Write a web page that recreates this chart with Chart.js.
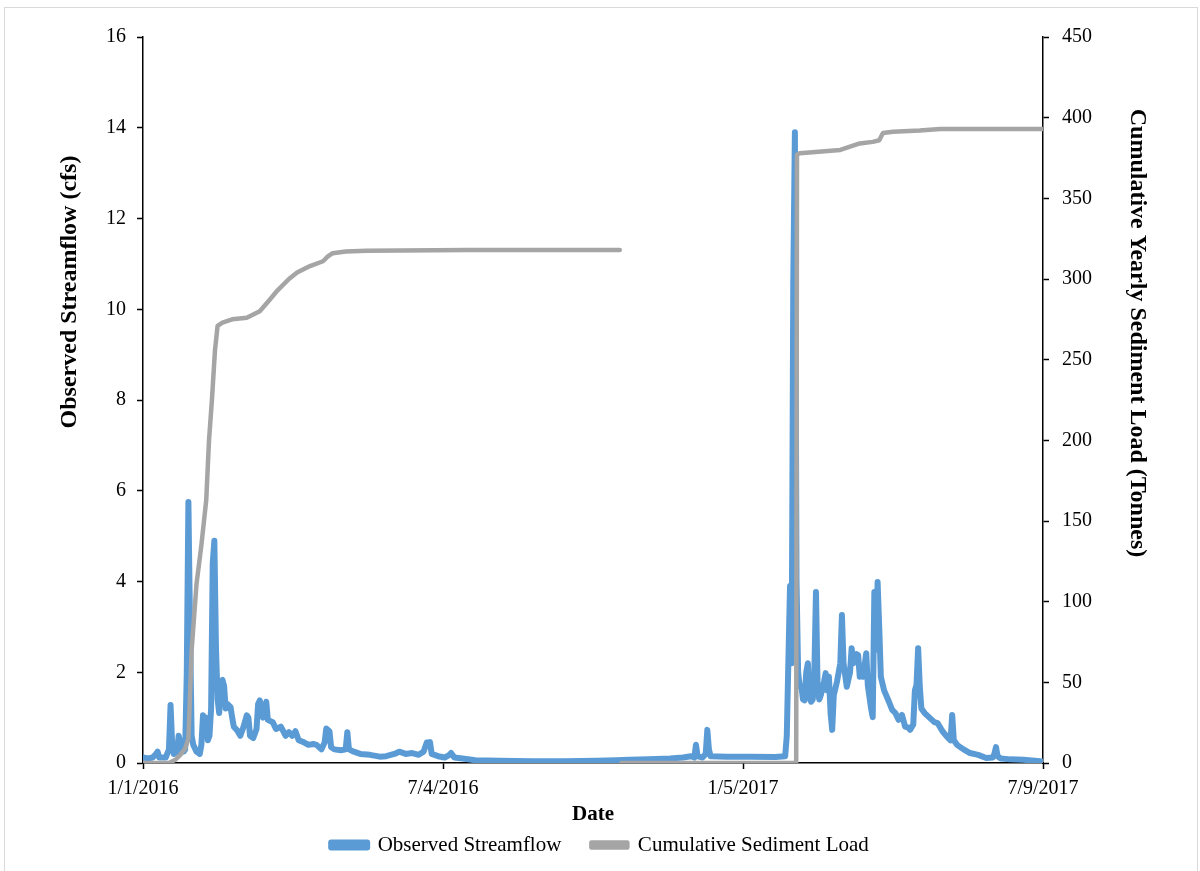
<!DOCTYPE html>
<html>
<head>
<meta charset="utf-8">
<title>Observed Streamflow and Cumulative Sediment Load</title>
<script src="https://cdn.jsdelivr.net/npm/chart.js@4.4.1/dist/chart.umd.min.js"></script>
<style>
  html, body { margin: 0; padding: 0; background: #ffffff; }
  #wrap { position: relative; width: 1200px; height: 871px; overflow: hidden; }
  #frame { position: absolute; left: 4px; top: 7px; width: 1194px; height: 900px;
           border: 1px solid #d9d9d9; box-sizing: border-box; pointer-events: none; }
  canvas { position: absolute; left: 0; top: 0; }
</style>
</head>
<body>
<div id="wrap">
  <canvas id="chart" width="1200" height="871"></canvas>
  <div id="frame"></div>
</div>
<script>
// Day 0 = 1/1/2016
const startDate = '1/1/2016';
const tickLabels = ['1/1/2016', '7/4/2016', '1/5/2017', '7/9/2017'];
const leftTitle = 'Observed Streamflow (cfs)';
const rightTitle = 'Cumulative Yearly Sediment Load (Tonnes)';

// Observed streamflow (cfs), days since start
const flowDays = [
  0, 3, 6, 8, 9, 10, 14, 16, 17, 18,
  19, 21, 22, 23, 24, 25, 26, 27, 28, 29,
  30, 31, 33, 35, 36, 37, 38, 39, 40, 41,
  42, 43, 44, 45, 46, 47, 48, 49, 50, 51,
  52, 54, 55, 56, 58, 60, 62, 64, 65, 66,
  68, 70, 71, 72, 74, 76, 77, 80, 82, 85,
  88, 90, 92, 94, 96, 99, 102, 105, 107, 110,
  112, 113, 115, 116, 118, 122, 125, 126, 127, 130,
  134, 140, 146, 150, 155, 158, 162, 166, 170, 173,
  175, 177, 178, 182, 186, 189, 190, 192, 197, 205,
  220, 240, 260, 280, 292, 300, 312, 325, 333, 338,
  340, 341, 342, 345, 347, 348, 349, 350, 360, 375,
  390, 396, 397, 398, 399, 400, 401, 402, 403, 404,
  405, 406, 407, 408, 409, 410, 411, 412, 413, 414,
  415, 416, 417, 418, 420, 421, 422, 423, 424, 425,
  426, 428, 430, 431, 432, 434, 436, 437, 438, 440,
  441, 442, 443, 444, 446, 447, 449, 450, 451, 452,
  453, 454, 455, 457, 460, 462, 464, 466, 468, 470,
  472, 473, 475, 476, 477, 478, 479, 480, 482, 485,
  488, 490, 493, 496, 498, 499, 500, 502, 506, 510,
  515, 520, 524, 525, 526, 527, 529, 535, 543, 550,
  555
];
const flowValues = [
  0.12, 0.10, 0.12, 0.20, 0.25, 0.12, 0.12, 0.30, 1.28, 0.40,
  0.20, 0.25, 0.60, 0.45, 0.30, 0.25, 0.30, 2.00, 5.75, 3.00,
  0.60, 0.40, 0.25, 0.20, 0.40, 1.05, 0.60, 1.00, 0.50, 0.60,
  1.20, 4.40, 4.90, 2.55, 1.40, 1.10, 1.80, 1.83, 1.70, 1.20,
  1.30, 1.23, 1.00, 0.80, 0.72, 0.60, 0.80, 1.05, 1.00, 0.60,
  0.55, 0.75, 1.30, 1.38, 1.00, 1.35, 0.95, 0.90, 0.75, 0.80,
  0.60, 0.68, 0.60, 0.70, 0.50, 0.46, 0.40, 0.42, 0.40, 0.30,
  0.45, 0.76, 0.70, 0.35, 0.30, 0.28, 0.30, 0.68, 0.30, 0.25,
  0.20, 0.18, 0.14, 0.15, 0.20, 0.25, 0.20, 0.22, 0.18, 0.25,
  0.45, 0.46, 0.20, 0.15, 0.12, 0.18, 0.22, 0.12, 0.10, 0.06,
  0.05, 0.04, 0.04, 0.05, 0.06, 0.07, 0.08, 0.10, 0.12, 0.15,
  0.12, 0.40, 0.15, 0.12, 0.20, 0.73, 0.30, 0.15, 0.14, 0.14,
  0.13, 0.15, 0.60, 2.27, 3.90, 2.20, 10.60, 13.90, 4.00, 2.00,
  1.68, 1.70, 1.40, 1.38, 2.00, 2.20, 1.50, 1.35, 1.40, 2.00,
  3.77, 1.67, 1.40, 1.50, 1.80, 1.98, 1.60, 1.90, 1.10, 0.73,
  1.50, 1.80, 2.20, 3.26, 2.20, 1.68, 2.00, 2.53, 2.20, 2.40,
  2.38, 1.90, 2.05, 1.90, 2.42, 1.70, 1.20, 1.01, 3.77, 2.50,
  3.99, 3.00, 1.90, 1.60, 1.35, 1.17, 1.10, 0.95, 1.06, 0.80,
  0.78, 0.73, 0.85, 1.60, 1.72, 2.53, 1.70, 1.20, 1.10, 1.00,
  0.90, 0.88, 0.70, 0.57, 0.50, 1.06, 0.50, 0.40, 0.30, 0.22,
  0.18, 0.11, 0.12, 0.20, 0.35, 0.15, 0.10, 0.08, 0.07, 0.05,
  0.03
];

// Cumulative yearly sediment load (tonnes); null separates the two years
const loadDays = [
  0, 16, 20, 23, 26, 28, 30, 33, 36, 39,
  40.7, 42.5, 44.4, 46, 49, 55, 64, 72, 78, 83,
  90, 95, 103, 111, 114, 117, 125, 138, 200, 294,
  294.5, 295, 350, 402.8, 403.3, 405, 430, 442, 450, 454,
  456.3, 462.5, 479, 491.5, 555
];
const loadValues = [
  0, 0, 2, 5, 9, 15, 70, 111, 135, 163,
  200, 225, 256, 271, 273, 275, 276, 280, 287, 293,
  300, 304, 308, 311, 314, 316, 317, 317.5, 318, 318,
  null, 0, 0, 0, 377, 378, 380, 384, 385, 386,
  390.5, 391.3, 392, 393, 393
];

function daysSinceStart(label) {
  const [m, d, y] = label.split('/').map(Number);
  const [m0, d0, y0] = startDate.split('/').map(Number);
  return Math.round((Date.UTC(y, m - 1, d) - Date.UTC(y0, m0 - 1, d0)) / 86400000);
}
const tickDays = tickLabels.map(daysSinceStart);

const serif = 'Liberation Serif, "Times New Roman", Times, serif';
const ink = '#000000';

// Vertical axis titles, drawn beside their axes and raised towards the top
const axisTitles = {
  id: 'axisTitles',
  afterDraw(chart) {
    const { ctx, chartArea } = chart;
    const ctr = (chartArea.top + chartArea.bottom) / 2;
    ctx.save();
    ctx.fillStyle = ink;
    ctx.font = 'bold 24px ' + serif;
    ctx.textAlign = 'center';
    ctx.textBaseline = 'middle';
    ctx.save();
    ctx.translate(chart.scales.y.left + 70, ctr - 108);
    ctx.rotate(-Math.PI / 2);
    ctx.fillText(leftTitle, 0, 0);
    ctx.restore();
    ctx.save();
    ctx.translate(chart.scales.y2.right - 63, ctr - 67);
    ctx.rotate(Math.PI / 2);
    ctx.fillText(rightTitle, 0, 0);
    ctx.restore();
    ctx.restore();
  }
};

const chart = new Chart(document.getElementById('chart'), {
  type: 'line',
  data: {
    datasets: [
      {
        label: 'Observed Streamflow',
        data: flowDays.map((d, i) => ({ x: d, y: flowValues[i] })),
        yAxisID: 'y',
        borderColor: '#5B9BD5',
        backgroundColor: '#5B9BD5',
        borderWidth: 6,
        borderJoinStyle: 'round',
        borderCapStyle: 'round',
        pointRadius: 0,
        tension: 0,
        order: 2
      },
      {
        label: 'Cumulative Sediment Load',
        data: loadDays.map((d, i) => ({ x: d, y: loadValues[i] })),
        yAxisID: 'y2',
        borderColor: '#A5A5A5',
        backgroundColor: '#A5A5A5',
        borderWidth: 4.5,
        borderJoinStyle: 'round',
        borderCapStyle: 'round',
        pointRadius: 0,
        tension: 0,
        spanGaps: false,
        order: 1
      }
    ]
  },
  plugins: [axisTitles],
  options: {
    responsive: false,
    animation: false,
    devicePixelRatio: 1,
    layout: { padding: { top: 37, bottom: 5.5, left: 0, right: 0 } },
    plugins: {
      tooltip: { enabled: false },
      legend: {
        position: 'bottom',
        labels: {
          font: { family: serif, size: 21 },
          color: ink,
          boxWidth: 36,
          boxHeight: 5,
          padding: 30,
          sort: (a, b) => a.datasetIndex - b.datasetIndex
        }
      }
    },
    scales: {
      x: {
        type: 'linear',
        position: 'bottom',
        min: 0,
        max: tickDays[tickDays.length - 1],
        afterBuildTicks: s => { s.ticks = tickDays.map(v => ({ value: v })); },
        afterFit: s => { s.height = 41.5; },
        ticks: {
          autoSkip: false,
          maxRotation: 0,
          padding: 8,
          color: ink,
          font: { family: serif, size: 20 },
          callback: v => tickLabels[tickDays.indexOf(v)]
        },
        grid: { drawOnChartArea: false, drawTicks: true, tickLength: 6, tickColor: ink, tickWidth: 1.5 },
        border: { display: true, color: ink, width: 1.5 },
        title: {
          display: true, text: 'Date', color: ink,
          font: { family: serif, size: 21, weight: 'bold' },
          padding: { top: 0, bottom: -23 }
        }
      },
      y: {
        position: 'left',
        min: 0,
        max: 16,
        afterFit: s => { s.width = 143; },
        ticks: {
          stepSize: 2, padding: 11, color: ink,
          font: { family: serif, size: 20 }
        },
        grid: { drawOnChartArea: false, drawTicks: true, tickLength: 6, tickColor: ink, tickWidth: 1.5 },
        border: { display: true, color: ink, width: 1.5 },
        title: { display: false }
      },
      y2: {
        position: 'right',
        min: 0,
        max: 450,
        afterFit: s => { s.width = 157; },
        ticks: {
          stepSize: 50, padding: 13, color: ink,
          font: { family: serif, size: 20 }
        },
        grid: { drawOnChartArea: false, drawTicks: true, tickLength: 6, tickColor: ink, tickWidth: 1.5 },
        border: { display: true, color: ink, width: 1.5 },
        title: { display: false }
      }
    }
  }
});
</script>
</body>
</html>
